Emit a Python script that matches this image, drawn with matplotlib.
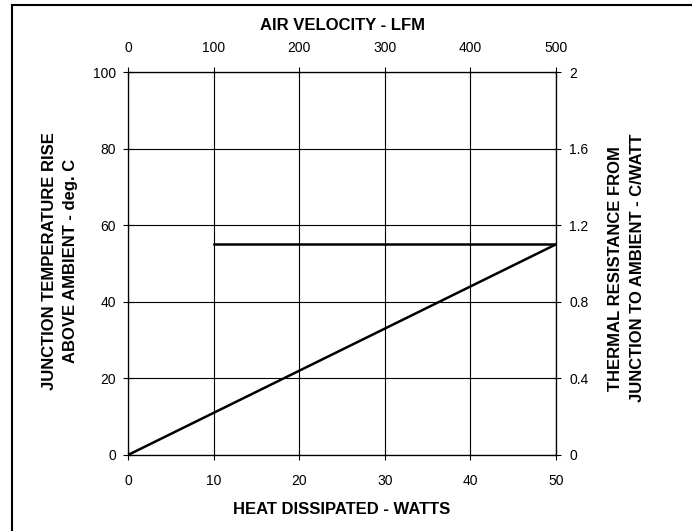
import matplotlib.pyplot as plt
from matplotlib.patches import Rectangle

plt.rcParams['font.family'] = ['Liberation Sans', 'DejaVu Sans']

# data
heat_watts = [0, 50]
temp_rise = [0, 55]
air_velocity = [100, 500]
thermal_res = [1.1, 1.1]

x_ticks = [0, 10, 20, 30, 40, 50]
y_ticks = [0, 20, 40, 60, 80, 100]
top_ticks = [0, 100, 200, 300, 400, 500]
right_ticks = [0, 0.4, 0.8, 1.2, 1.6, 2]
right_labels = ['0', '0.4', '0.8', '1.2', '1.6', '2']

W, H = 692, 531
fig = plt.figure(figsize=(W / 100, H / 100), dpi=100)
ax = fig.add_axes([128 / W, 1 - 455 / H, 428 / W, 383 / H])

ax.set_xlim(0, 50)
ax.set_ylim(0, 100)
ax.set_xticks(x_ticks)
ax.set_yticks(y_ticks)
ax.grid(True, color='black', linewidth=0.8)
ax.tick_params(direction='inout', length=7, width=0.8, labelsize=10)
ax.tick_params(axis='x', pad=10)
ax.tick_params(axis='y', pad=5)
for s in ax.spines.values():
    s.set_linewidth(0.8)

ax.plot(heat_watts, temp_rise, color='black', linewidth=1.8)

top = ax.twiny()
top.set_xlim(0, 500)
top.set_xticks(top_ticks)
top.tick_params(direction='inout', length=7, width=0.8, labelsize=10, pad=9)

right = top.twinx()
right.set_ylim(0, 2)
right.set_yticks(right_ticks)
right.set_yticklabels(right_labels)
right.tick_params(direction='inout', length=7, width=0.8, labelsize=10, pad=6)
right.plot(air_velocity, thermal_res, color='black', linewidth=1.8)

bold = dict(fontsize=12, fontweight='bold', ha='center', va='center')
fig.text(342 / W, 1 - 26 / H, 'AIR VELOCITY - LFM', **bold)
fig.text(342 / W, 1 - 510 / H, 'HEAT DISSIPATED - WATTS', **bold)
fig.text(49.5 / W, 1 - 261 / H, 'JUNCTION TEMPERATURE RISE', rotation=90, **bold)
fig.text(70 / W, 1 - 261 / H, 'ABOVE AMBIENT - deg. C', rotation=90, **bold)
fig.text(616 / W, 1 - 269 / H, 'THERMAL RESISTANCE FROM', rotation=90, **bold)
fig.text(637 / W, 1 - 268 / H, 'JUNCTION TO AMBIENT - C/WATT', rotation=90, **bold)

# outer frame (only top and left edges fall inside the image)
fig.patches.append(Rectangle((12 / W, -0.1), 1.2, 1.1 - 5 / H, transform=fig.transFigure,
                             fill=False, edgecolor='black', linewidth=1.5))

fig.savefig('out.png', dpi=100)
